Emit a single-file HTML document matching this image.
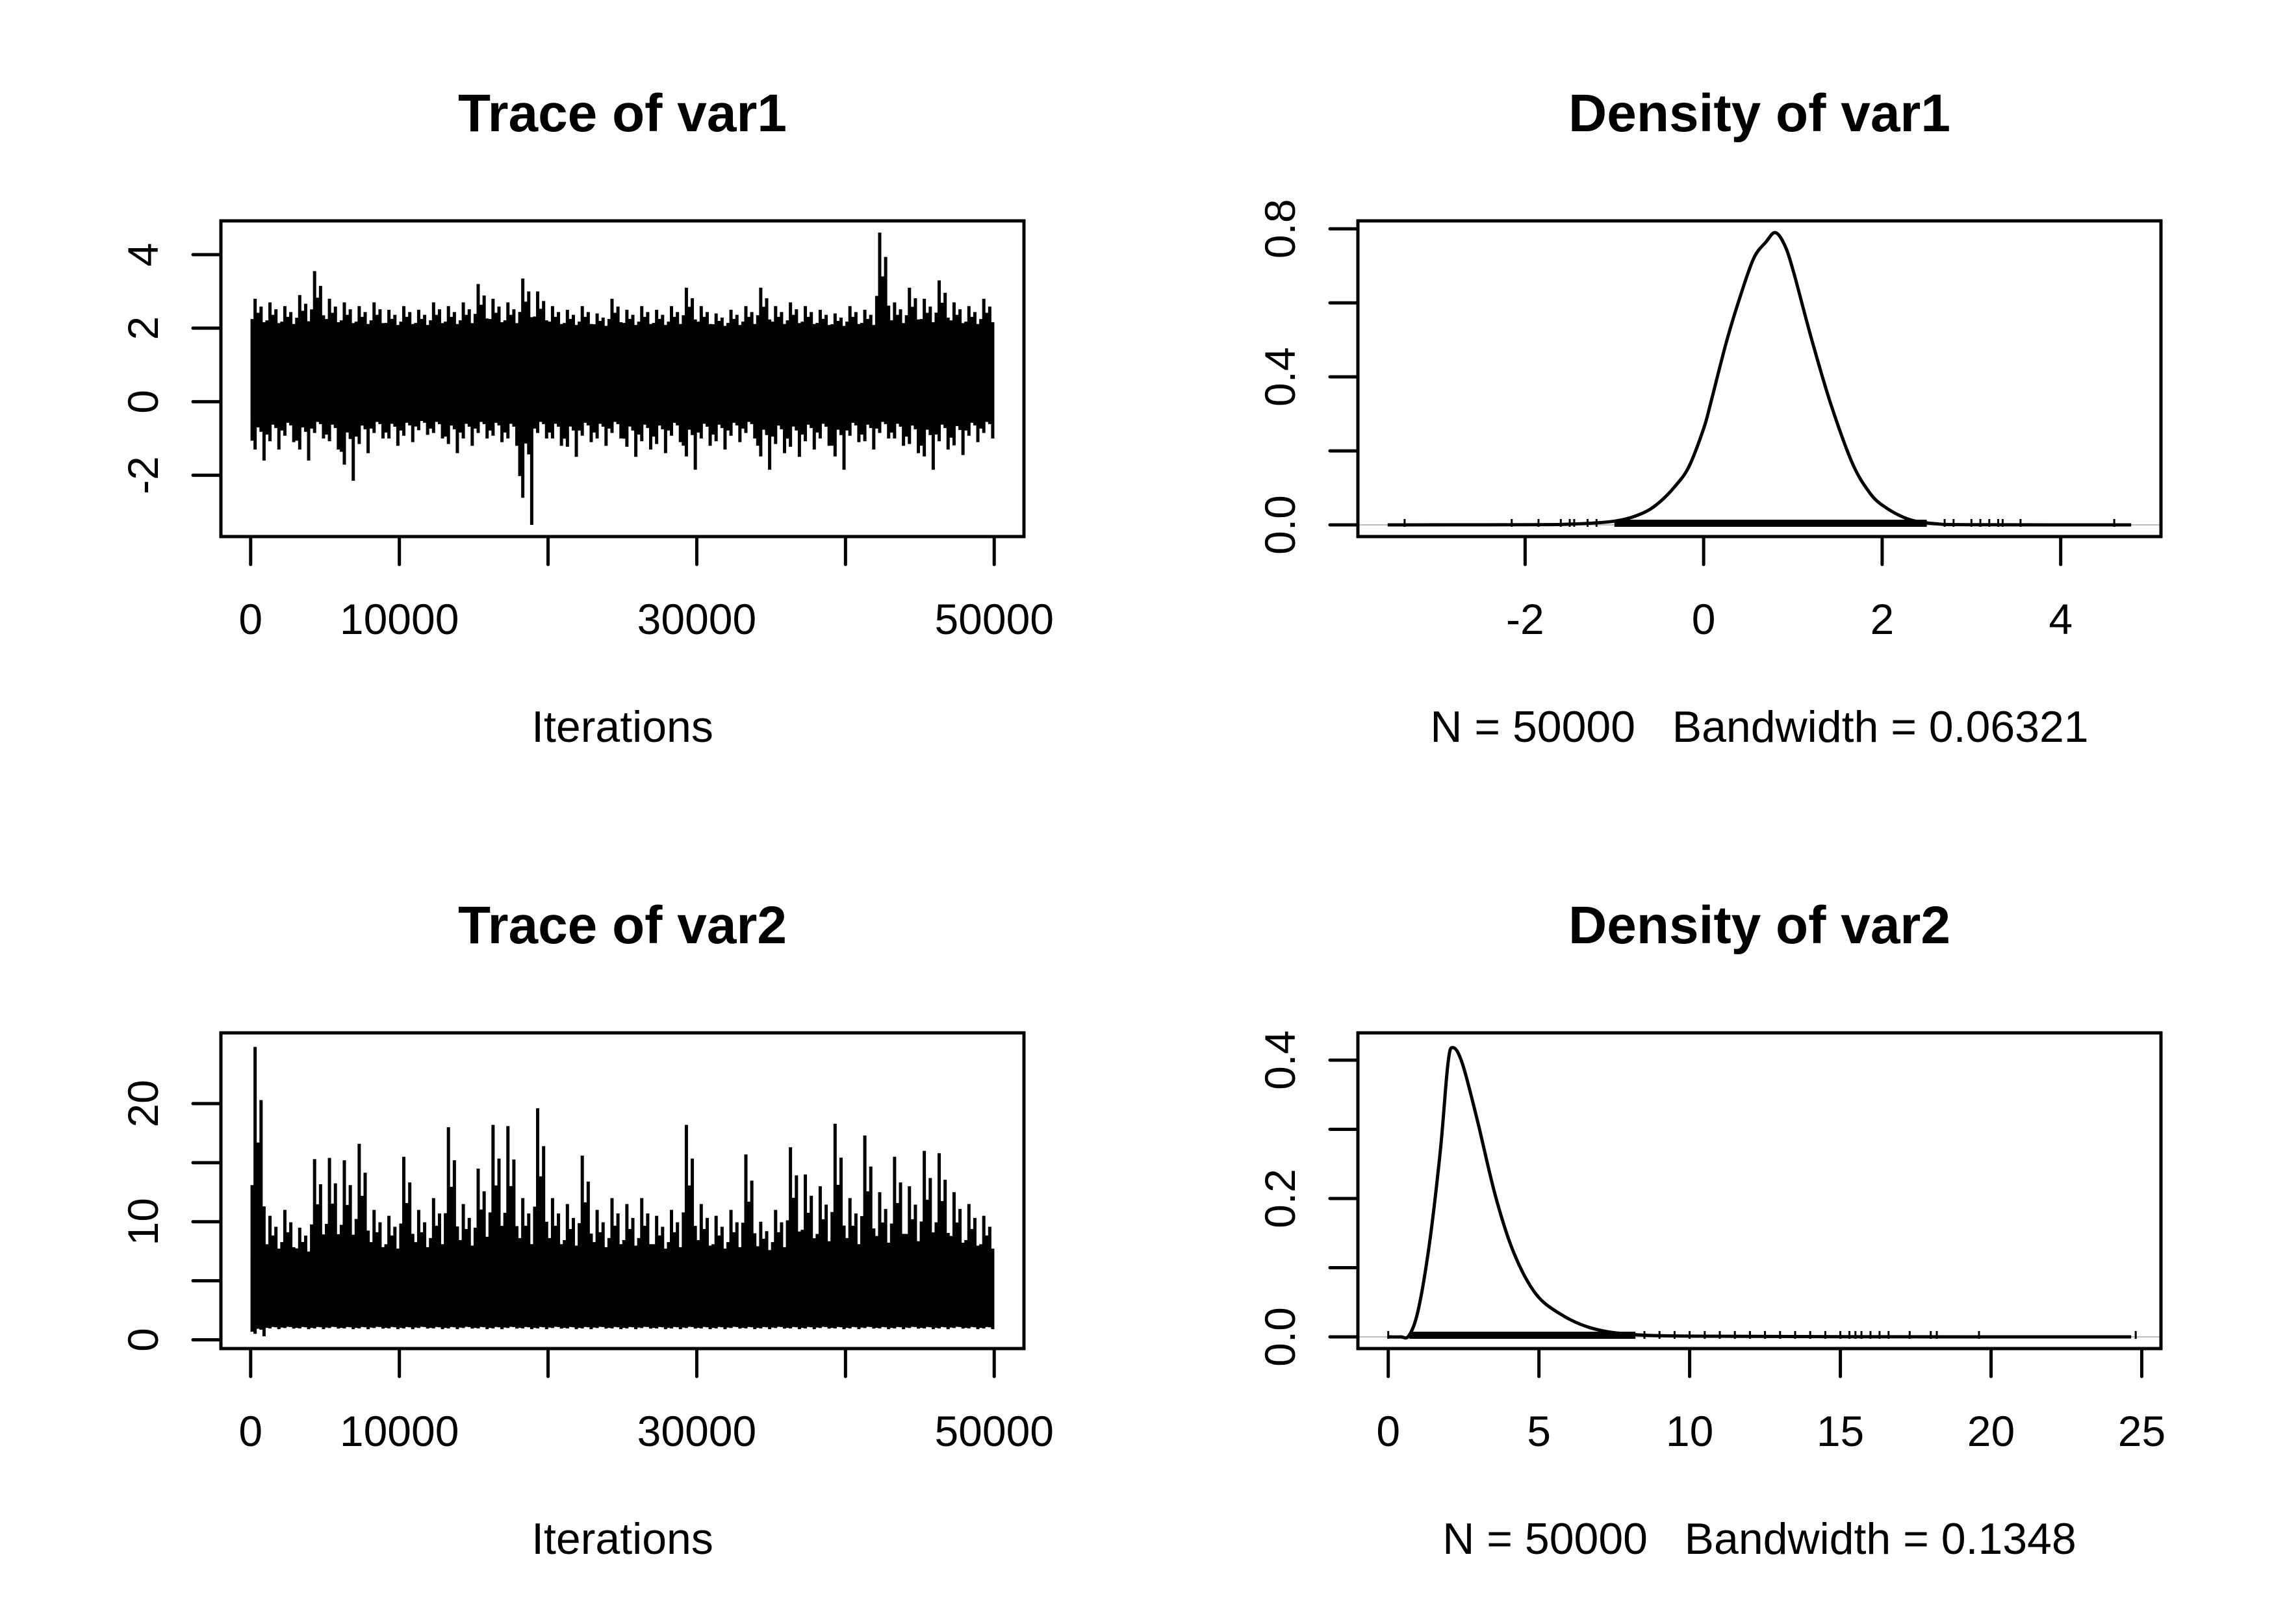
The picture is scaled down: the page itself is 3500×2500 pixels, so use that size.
<!DOCTYPE html>
<html><head><meta charset="utf-8">
<style>
html,body{margin:0;padding:0;background:#fff;}
svg{display:block;}
text{font-family:"Liberation Sans",Arial,sans-serif;fill:#000;}
.title{font-weight:bold;font-size:82px;}
.tick{font-size:66px;}
.lab{font-size:68px;white-space:pre;}
</style></head>
<body>
<svg id="chart" xmlns="http://www.w3.org/2000/svg" width="3500" height="2500" viewBox="0 0 3500 2500"></svg>
<script>
// ---- data ----
const iterBinSize = 1000;
const trace1Max = [2.8,2.7,2.6,2.9,3.55,2.8,2.7,2.6,2.7,2.5, 2.6,2.5,2.7,2.6,2.7,3.2,2.8,2.7,3.35,3.0, 2.6,2.5,2.6,2.4,2.8,2.5,2.6,2.5,2.6,3.1, 2.6,2.4,2.5,2.6,3.1,2.6,2.7,2.6,2.5,2.4, 2.6,2.5,4.6,2.7,3.1,2.8,3.3,2.7,2.6,2.8];
const trace1Min = [-1.6,-1.3,-1.1,-1.6,-1.0,-1.3,-2.15,-1.4,-1.0,-1.2, -1.1,-0.9,-1.0,-1.4,-1.2,-1.0,-1.1,-1.2,-3.35,-1.0, -1.2,-1.5,-1.1,-1.2,-1.0,-1.5,-1.3,-1.4,-1.1,-1.85, -1.2,-1.3,-1.1,-1.0,-1.85,-1.4,-1.5,-1.3,-1.2,-1.85, -1.1,-1.3,-1.0,-1.2,-1.4,-1.85,-1.3,-1.45,-1.1,-1.0];
const trace1Body = [-0.4, 1.95];
const trace2Max = [24.8,10.5,11,9.5,15.3,15.4,15.2,16.6,11,10.5, 15.5,11,12,18,11.5,14.5,18.2,18.1,12,19.6, 12,11.5,15.6,11,12,11.5,12,10.5,11,18.2, 11.5,10.5,11,15.7,10,11,16.3,14,13,18.3, 12,17.3,12.5,15.5,13,16,15.8,12.5,11.5,10.5];
const trace2Min = [0.3,0.9,0.95,0.9,0.9,0.95,0.9,0.9,0.95,0.9, 0.9,0.95,0.9,0.9,0.95,0.9,0.9,0.95,0.9,0.9, 0.95,0.9,0.9,0.95,0.9,0.9,0.95,0.9,0.9,0.95, 0.9,0.9,0.95,0.9,0.9,0.95,0.9,0.9,0.95,0.9, 0.9,0.95,0.9,0.9,0.95,0.9,0.9,0.95,0.9,0.9];
const trace2Body = [1.15, 6.8];
const dens1X = [-3.54,-2.0,-1.5,-1.0,-0.7,-0.5,-0.3,-0.16,0.0,0.08,0.25,0.40,0.56,0.70,0.80,0.90,1.00,1.20,1.42,1.66,1.85,2.02,2.3,2.6,3.0,4.79];
const dens1Y = [0,0.0005,0.002,0.01,0.03,0.06,0.11,0.16,0.26,0.33,0.49,0.61,0.72,0.765,0.79,0.76,0.69,0.51,0.33,0.17,0.09,0.05,0.015,0.003,0.0005,0];
const dens1RugBand = [-1.0, 2.5];
const dens1RugOut = [-3.35,-2.15,-1.85,-1.6,-1.5,-1.45,-1.3,-1.2,2.7,2.8,3.0,3.1,3.2,3.3,3.35,3.55,4.6];
const dens2X = [-0.02,0.4,0.69,1.0,1.37,1.73,1.98,2.15,2.46,2.95,3.56,4.17,4.9,5.75,6.72,7.94,10,15,24.65];
const dens2Y = [0,0,0.002,0.04,0.136,0.27,0.395,0.418,0.395,0.314,0.203,0.121,0.062,0.032,0.013,0.004,0.001,0.0002,0];
const dens2RugBand = [0.7, 8.2];
const dens2RugOut = [0,8.5,9,9.5,10,10.5,11,11.5,12,12.5,13,13.5,14,14.5,15,15.3,15.5,15.7,16,16.3,16.6,17.3,18,18.2,19.6,24.8];

const svg = document.getElementById('chart');
const NS = 'http://www.w3.org/2000/svg';
function mk(tag, attrs, parent){
  const e = document.createElementNS(NS, tag);
  for (const k in attrs) e.setAttribute(k, attrs[k]);
  (parent||svg).appendChild(e);
  return e;
}
function panel(ox, oy, xlim, ylim){
  const L=340+ox, R=1576+ox, T=340+oy, B=826+oy;
  const pw=(R-L)/1.08, ph=(B-T)/1.08;
  return {L,R,T,B,
    sx:v=>L+(R-L-pw)/2+(v-xlim[0])/(xlim[1]-xlim[0])*pw,
    sy:v=>B-(B-T-ph)/2-(v-ylim[0])/(ylim[1]-ylim[0])*ph};
}
function frame(p, g, title, xlabel, xticks, xlabs, yticks, ylabs){
  const t = mk('text',{x:(p.L+p.R)/2,y:p.T-138,'text-anchor':'middle','class':'title'},g);
  t.textContent=title;
  
  
  const box = mk('rect',{x:p.L,y:p.T,width:p.R-p.L,height:p.B-p.T,fill:'none',stroke:'#000','stroke-width':5},g);
  
  
  const xa = mk('g',{},g);
  
  
  mk('line',{x1:p.sx(xticks[0]),x2:p.sx(xticks[xticks.length-1]),y1:p.B,y2:p.B,stroke:'#000','stroke-width':5},xa);
  xticks.forEach((v,i)=>{
    mk('line',{x1:p.sx(v),x2:p.sx(v),y1:p.B,y2:p.B+43,stroke:'#000','stroke-width':5,'stroke-linecap':'round'},xa);
    if (xlabs[i]!==''){
      const tt=mk('text',{x:p.sx(v),y:p.B+150,'text-anchor':'middle','class':'tick'},xa);
      tt.textContent=xlabs[i];
      
      
    }
  });
  const ya = mk('g',{},g);
  
  
  mk('line',{x1:p.L,x2:p.L,y1:p.sy(yticks[0]),y2:p.sy(yticks[yticks.length-1]),stroke:'#000','stroke-width':5},ya);
  yticks.forEach((v,i)=>{
    mk('line',{x1:p.L-43,x2:p.L,y1:p.sy(v),y2:p.sy(v),stroke:'#000','stroke-width':5,'stroke-linecap':'round'},ya);
    if (ylabs[i]!==''){
      const bx=p.L-97, by=p.sy(v);
      const tt=mk('text',{x:bx,y:by,'text-anchor':'middle','class':'tick',transform:'rotate(-90 '+bx+' '+by+')'},ya);
      tt.textContent=ylabs[i];
      
      
    }
  });
  const xl=mk('text',{x:(p.L+p.R)/2,y:p.B+316,'text-anchor':'middle','class':'lab'},g);
  xl.textContent=xlabel;
  
  
}
function trace(p, g, mx, mn, body){
  const n=mx.length;
  const x0=p.sx(0), x1=p.sx(n*iterBinSize);
  const b=mk('rect',{x:x0,y:p.sy(body[1]),width:x1-x0,height:p.sy(body[0])-p.sy(body[1]),fill:'#000'},g);
  
  
  let d='';
  const offs=[0.1,0.3,0.5,0.7,0.9];
  const fr=[0.35,1,0.55,0.75,0.25];
  for(let i=0;i<n;i++){
    offs.forEach((o,k)=>{
      const x=p.sx((i+o)*iterBinSize);
      const hi=body[1]+(mx[i]-body[1])*fr[k];
      const lo=body[0]+(mn[i]-body[0])*fr[(k+2)%5];
      d+='M'+x+' '+p.sy(body[0])+'L'+x+' '+p.sy(hi);
      d+='M'+x+' '+p.sy(body[1])+'L'+x+' '+p.sy(lo);
    });
  }
  const l=mk('path',{d:d,stroke:'#000','stroke-width':5,fill:'none'},g);
  
  
}
function smoothPath(pts){
  let d='M'+pts[0][0].toFixed(1)+' '+pts[0][1].toFixed(1);
  for(let i=0;i<pts.length-1;i++){
    const p0=pts[Math.max(0,i-1)],p1=pts[i],p2=pts[i+1],p3=pts[Math.min(pts.length-1,i+2)];
    const c1=[p1[0]+(p2[0]-p0[0])/6,p1[1]+(p2[1]-p0[1])/6];
    const c2=[p2[0]-(p3[0]-p1[0])/6,p2[1]-(p3[1]-p1[1])/6];
    d+='C'+c1[0].toFixed(1)+' '+c1[1].toFixed(1)+' '+c2[0].toFixed(1)+' '+c2[1].toFixed(1)+' '+p2[0].toFixed(1)+' '+p2[1].toFixed(1);
  }
  return d;
}
function density(p, g, xs, ys, band, outs){
  const zl=mk('line',{x1:p.L,x2:p.R,y1:p.sy(0),y2:p.sy(0),stroke:'#bebebe','stroke-width':2},g);
  
  
  const y0=p.sy(0);
  const rb=mk('rect',{x:p.sx(band[0]),y:y0-8,width:p.sx(band[1])-p.sx(band[0]),height:11,fill:'#000'},g);
  
  
  let d='';
  outs.forEach(v=>{d+='M'+p.sx(v)+' '+(y0+3)+'L'+p.sx(v)+' '+(y0-9);});
  const ro=mk('path',{d:d,stroke:'#000','stroke-width':3},g);
  
  
  const pts=xs.map((v,i)=>[p.sx(v),p.sy(ys[i])]);
  const c=mk('path',{d:smoothPath(pts),stroke:'#000','stroke-width':5,fill:'none','stroke-linejoin':'round'},g);
  
  
}
const xTicksIter=[0,10000,20000,30000,40000,50000];
const xLabsIter=['0','10000','','30000','','50000'];

let g=mk('g',{});


let p=panel(0,0,[0,50000],[-3.35,4.6]);
trace(p,g,trace1Max,trace1Min,trace1Body);
frame(p,g,'Trace of var1','Iterations',xTicksIter,xLabsIter,[-2,0,2,4],['-2','0','2','4']);

g=mk('g',{});


p=panel(1750,0,[-3.54,4.79],[0,0.79]);
density(p,g,dens1X,dens1Y,dens1RugBand,dens1RugOut);
frame(p,g,'Density of var1','N = 50000   Bandwidth = 0.06321',[-2,0,2,4],['-2','0','2','4'],[0,0.2,0.4,0.6,0.8],['0.0','','0.4','','0.8']);

g=mk('g',{});


p=panel(0,1250,[0,50000],[0.25,25.0]);
trace(p,g,trace2Max,trace2Min,trace2Body);
frame(p,g,'Trace of var2','Iterations',xTicksIter,xLabsIter,[0,5,10,15,20],['0','','10','','20']);

g=mk('g',{});


p=panel(1750,1250,[-0.02,24.65],[0,0.4225]);
density(p,g,dens2X,dens2Y,dens2RugBand,dens2RugOut);
frame(p,g,'Density of var2','N = 50000   Bandwidth = 0.1348',[0,5,10,15,20,25],['0','5','10','15','20','25'],[0,0.1,0.2,0.3,0.4],['0.0','','0.2','','0.4']);
</script>
</body></html>
